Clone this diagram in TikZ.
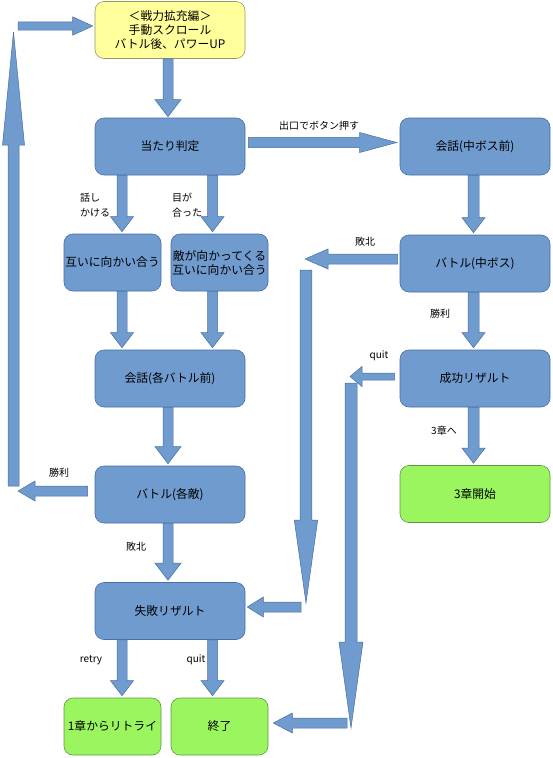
\documentclass[tikz,border=0pt]{standalone}
\usepackage{fontspec}
\setmainfont{Noto Sans CJK JP}
\usepackage{tikz}
\usetikzlibrary{calc}
\definecolor{boxblue}{RGB}{112,155,206}
\definecolor{boxline}{RGB}{72,110,165}
\definecolor{boxgreen}{RGB}{155,245,95}
\definecolor{greenline}{RGB}{95,150,70}
\definecolor{boxyellow}{RGB}{255,255,155}
\definecolor{yellowline}{RGB}{150,150,100}
\newcommand{\blockarrow}[5]{%
  \coordinate (bh) at ($(#2)!#5!(#1)$);
  \draw[fatarrow] ($(#1)!#3!90:(#2)$) -- ($(bh)!#3!-90:(#1)$) -- ($(bh)!#4!-90:(#1)$) -- (#2)
    -- ($(bh)!#4!90:(#1)$) -- ($(bh)!#3!90:(#1)$) -- ($(#1)!#3!-90:(#2)$) -- cycle;}

\begin{document}
\begin{tikzpicture}[x=1pt,y=-1pt,
    stepbox/.style={draw=boxline, fill=boxblue, line width=0.6pt, rounded corners=9pt,
      minimum width=150pt, minimum height=57pt, inner sep=0.5pt, align=center,
      font=\fontsize{11.8}{14}\selectfont},
    smallbox/.style={stepbox, minimum width=97pt},
    endbox/.style={smallbox, draw=greenline, fill=boxgreen},
    fatarrow/.style={draw=boxline, fill=boxblue, line width=0.5pt},
    lbl/.style={inner sep=0pt, font=\fontsize{10}{15}\selectfont}]
    \useasboundingbox (0,0) rectangle (553,758);
    \node[stepbox, draw=yellowline, fill=boxyellow] (start) at (170,30) {＜戦力拡充編＞\\手動スクロール\\バトル後、パワーUP};
    \node[stepbox] (hantei) at (170,146.5) {当たり判定};
    \node[stepbox] (kaiwaboss) at (475,146.5) {会話(中ボス前)};
    \node[stepbox] (battleboss) at (475,263.5) {バトル(中ボス)};
    \node[smallbox] (tagai) at (112.5,262.5) {互いに向かい合う};
    \node[smallbox] (teki) at (219.5,262.5) {敵が向かってくる\\互いに向かい合う};
    \node[stepbox] (kaiwa) at (170,378.5) {会話(各バトル前)};
    \node[stepbox] (seikou) at (475,378.5) {成功リザルト};
    \node[stepbox, draw=greenline, fill=boxgreen] (sanshou) at (475,494) {3章開始};
    \node[stepbox] (battle) at (170,494.5) {バトル(各敵)};
    \node[stepbox] (shippai) at (170,611) {失敗リザルト};
    \node[endbox] (retry) at (112.5,726.5) {1章からリトライ};
    \node[endbox] (shuryo) at (219.5,726.5) {終了};
    \coordinate (a1s) at ([xshift=-2pt]start.south);
    \coordinate (a1e) at ([xshift=-2pt,yshift=1pt]hantei.north);
    \coordinate (a2s) at ([xshift=3pt,yshift=4pt]hantei.east);
    \coordinate (a2e) at ([xshift=-3pt,yshift=4pt]kaiwaboss.west);
    \coordinate (a3s) at ([xshift=-48pt]hantei.south);
    \coordinate (a3e) at ([xshift=9.5pt,yshift=2pt]tagai.north);
    \coordinate (a4s) at ([xshift=42.5pt]hantei.south);
    \coordinate (a4e) at ([xshift=-7pt,yshift=2pt]teki.north);
    \coordinate (a5s) at ([xshift=9.5pt]tagai.south);
    \coordinate (a5e) at ([xshift=-48pt,yshift=2pt]kaiwa.north);
    \coordinate (a6s) at ([xshift=-7pt]teki.south);
    \coordinate (a6e) at ([xshift=42.5pt,yshift=2pt]kaiwa.north);
    \coordinate (a7s) at ([xshift=-2pt]kaiwa.south);
    \coordinate (a7e) at ([xshift=-2pt,yshift=2pt]battle.north);
    \coordinate (a8s) at ([xshift=-2pt]battle.south);
    \coordinate (a8e) at ([xshift=-2pt,yshift=2pt]shippai.north);
    \coordinate (a9s) at ([xshift=-48pt]shippai.south);
    \coordinate (a9e) at ([xshift=9.5pt,yshift=2pt]retry.north);
    \coordinate (a10s) at ([xshift=42.5pt]shippai.south);
    \coordinate (a10e) at ([xshift=-7pt,yshift=2pt]shuryo.north);
    \coordinate (a11s) at ([xshift=-1.5pt]kaiwaboss.south);
    \coordinate (a11e) at ([xshift=-1.5pt,yshift=2pt]battleboss.north);
    \coordinate (a12s) at ([xshift=-1.5pt]battleboss.south);
    \coordinate (a12e) at ([xshift=-1.5pt,yshift=2pt]seikou.north);
    \coordinate (a13s) at ([xshift=-1.5pt]seikou.south);
    \coordinate (a13e) at ([xshift=-1.5pt,yshift=2pt]sanshou.north);
    \coordinate (a14s) at ([xshift=-2pt,yshift=4.5pt]battleboss.west);
    \coordinate (a14e) at (305,259);
    \coordinate (a15s) at (306,270);
    \coordinate (a15e) at (306,603);
    \coordinate (a16s) at (301,607);
    \coordinate (a16e) at ([xshift=2pt,yshift=4pt]shippai.east);
    \coordinate (a17s) at ([xshift=-5pt,yshift=2pt]seikou.west);
    \coordinate (a17e) at (350,376.5);
    \coordinate (a18s) at (351,383);
    \coordinate (a18e) at (351,728);
    \coordinate (a19s) at (347,723);
    \coordinate (a19e) at ([xshift=5pt,yshift=3.5pt]shuryo.east);
    \coordinate (a20s) at ([xshift=-7pt,yshift=3.5pt]battle.west);
    \coordinate (a20e) at (18,491);
    \coordinate (a21s) at (13.5,486);
    \coordinate (a21e) at (13.5,32);
    \coordinate (a22s) at (18,26);
    \coordinate (a22e) at ([xshift=-2pt,yshift=4pt]start.west);
    \blockarrow{a1s}{a1e}{5pt}{13pt}{17pt}
    \blockarrow{a2s}{a2e}{5.2pt}{10pt}{37pt}
    \blockarrow{a3s}{a3e}{5pt}{11.5pt}{15pt}
    \blockarrow{a4s}{a4e}{5pt}{11.5pt}{15pt}
    \blockarrow{a5s}{a5e}{5pt}{11.5pt}{15pt}
    \blockarrow{a6s}{a6e}{5pt}{11.5pt}{15pt}
    \blockarrow{a7s}{a7e}{5pt}{13pt}{17pt}
    \blockarrow{a8s}{a8e}{5pt}{13pt}{17pt}
    \blockarrow{a9s}{a9e}{5pt}{11.5pt}{15pt}
    \blockarrow{a10s}{a10e}{5pt}{11.5pt}{15pt}
    \blockarrow{a11s}{a11e}{5.5pt}{11.5pt}{15pt}
    \blockarrow{a12s}{a12e}{5.5pt}{11.5pt}{15pt}
    \blockarrow{a13s}{a13e}{5.5pt}{11.5pt}{15pt}
    \blockarrow{a14s}{a14e}{5pt}{10pt}{23pt}
    \blockarrow{a15s}{a15e}{5.8pt}{11.7pt}{83pt}
    \blockarrow{a16s}{a16e}{5pt}{10pt}{16pt}
    \blockarrow{a17s}{a17e}{3.5pt}{10pt}{12pt}
    \blockarrow{a18s}{a18e}{6pt}{12pt}{86pt}
    \blockarrow{a19s}{a19e}{5pt}{10pt}{19pt}
    \blockarrow{a20s}{a20e}{5pt}{10pt}{17pt}
    \blockarrow{a21s}{a21e}{5.5pt}{11pt}{113pt}
    \blockarrow{a22s}{a22e}{4.2pt}{9.2pt}{20pt}
    \node[lbl] (l1) at (319,126) {出口でボタン押す};
    \node[lbl, anchor=west, align=left] (l2) at (80,205.5) {話し\\かける};
    \node[lbl, anchor=west, align=left] (l3) at (172,205.5) {目が\\合った};
    \node[lbl] (l4) at (365,242) {敗北};
    \node[lbl] (l5) at (440,314) {勝利};
    \node[lbl] (l6) at (379,356) {quit};
    \node[lbl] (l7) at (444,431) {3章へ};
    \node[lbl] (l8) at (59,473) {勝利};
    \node[lbl] (l9) at (136,547) {敗北};
    \node[lbl] (l10) at (91,660) {retry};
    \node[lbl] (l11) at (196,660) {quit};
\end{tikzpicture}
\end{document}
